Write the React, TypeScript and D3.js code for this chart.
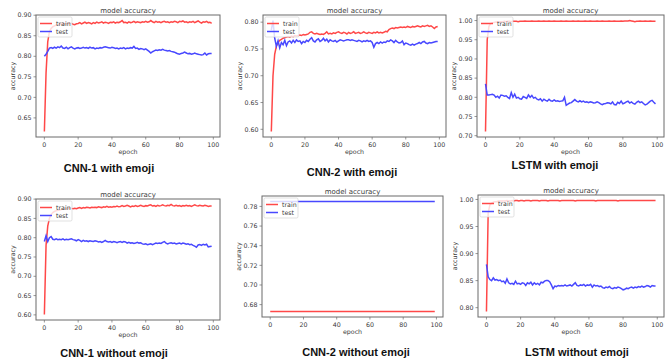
import * as d3 from "d3";

// captions under each panel
const captions = [
  "CNN-1 with emoji",
  "CNN-2 with emoji",
  "LSTM with emoji",
  "CNN-1 without emoji",
  "CNN-2 without emoji",
  "LSTM without emoji",
];

const xTicks = [0, 20, 40, 60, 80, 100];

const yTicks = [
  [0.65, 0.7, 0.75, 0.8, 0.85, 0.9],
  [0.6, 0.65, 0.7, 0.75, 0.8],
  [0.7, 0.75, 0.8, 0.85, 0.9, 0.95, 1.0],
  [0.6, 0.65, 0.7, 0.75, 0.8, 0.85, 0.9],
  [0.68, 0.7, 0.72, 0.74, 0.76, 0.78],
  [0.8, 0.85, 0.9, 0.95, 1.0],
];

// CNN-1 with emoji
const cnn1EmojiTrain = [
  0.617, 0.76, 0.835, 0.86, 0.868, 0.872, 0.874, 0.876, 0.877, 0.878,
  0.879, 0.88, 0.878, 0.88, 0.879, 0.881, 0.88, 0.878, 0.877, 0.879,
  0.88, 0.882, 0.879, 0.881, 0.883, 0.88, 0.882, 0.881, 0.879, 0.882,
  0.88, 0.883, 0.881, 0.882, 0.884, 0.881, 0.883, 0.882, 0.88, 0.883,
  0.882, 0.884, 0.881, 0.883, 0.882, 0.884, 0.887, 0.882, 0.883, 0.881,
  0.884, 0.882, 0.883, 0.885, 0.882, 0.884, 0.883, 0.882, 0.884, 0.883,
  0.885, 0.883, 0.884, 0.887, 0.884, 0.882, 0.885, 0.883, 0.884, 0.882,
  0.884, 0.885, 0.883, 0.884, 0.882, 0.884, 0.883, 0.885, 0.884, 0.882,
  0.885, 0.884, 0.886, 0.883, 0.884, 0.882, 0.884, 0.883, 0.885, 0.882,
  0.884, 0.886, 0.883, 0.881, 0.884, 0.883, 0.885, 0.882, 0.883, 0.88,
];
const cnn1EmojiTest = [
  0.8, 0.805, 0.812, 0.82, 0.821, 0.819, 0.822, 0.82, 0.823, 0.821,
  0.825, 0.82, 0.819, 0.822, 0.818, 0.821, 0.823, 0.82, 0.818, 0.82,
  0.821, 0.819, 0.82, 0.822, 0.82, 0.821, 0.819, 0.822, 0.82, 0.821,
  0.818, 0.82, 0.819, 0.821, 0.82, 0.822, 0.823, 0.822, 0.821, 0.82,
  0.822, 0.821, 0.819, 0.82, 0.818, 0.82, 0.819, 0.821, 0.818, 0.82,
  0.819, 0.821, 0.82, 0.824, 0.819, 0.82, 0.817, 0.819, 0.818, 0.816,
  0.818, 0.815, 0.812, 0.808, 0.811, 0.813, 0.815, 0.814, 0.816, 0.815,
  0.817, 0.815, 0.814, 0.813, 0.814, 0.812, 0.811, 0.81, 0.808, 0.806,
  0.805, 0.807, 0.808, 0.81, 0.808, 0.806, 0.807, 0.805, 0.806, 0.808,
  0.806, 0.805, 0.804, 0.803, 0.804, 0.808, 0.803, 0.806, 0.807, 0.807,
];

// CNN-2 with emoji
const cnn2EmojiTrain = [
  0.596, 0.7, 0.74, 0.755, 0.762, 0.766, 0.768, 0.77, 0.771, 0.772,
  0.773, 0.772, 0.774, 0.773, 0.775, 0.774, 0.775, 0.776, 0.775, 0.777,
  0.776, 0.777, 0.778, 0.781, 0.782, 0.779, 0.778, 0.779, 0.778, 0.777,
  0.778, 0.777, 0.779, 0.782, 0.778, 0.779, 0.778, 0.78, 0.779, 0.781,
  0.782, 0.78, 0.779, 0.781, 0.78, 0.778, 0.781, 0.779, 0.78, 0.782,
  0.779, 0.78, 0.781, 0.779, 0.78, 0.782, 0.78, 0.779, 0.781, 0.78,
  0.779, 0.781, 0.78, 0.782, 0.78, 0.781, 0.78, 0.781, 0.783, 0.782,
  0.786, 0.788, 0.789, 0.788, 0.79, 0.789, 0.79, 0.791, 0.79, 0.791,
  0.79, 0.792, 0.791, 0.79, 0.792, 0.791, 0.792, 0.793, 0.792, 0.791,
  0.793, 0.792, 0.793, 0.794, 0.792, 0.793, 0.791, 0.788, 0.791, 0.792,
];
const cnn2EmojiTest = [
  0.785, 0.803, 0.77, 0.755, 0.765, 0.752, 0.762, 0.758, 0.766, 0.756,
  0.763, 0.765, 0.761, 0.766, 0.762, 0.767, 0.764, 0.765, 0.76, 0.764,
  0.762, 0.766, 0.764, 0.768, 0.771, 0.765, 0.763, 0.767, 0.769, 0.764,
  0.766, 0.77, 0.765, 0.768, 0.763, 0.767, 0.765, 0.764, 0.766, 0.763,
  0.765, 0.767, 0.766, 0.765, 0.766, 0.767, 0.767, 0.766, 0.767, 0.766,
  0.765, 0.764, 0.766, 0.765, 0.763, 0.765, 0.764, 0.766, 0.764, 0.765,
  0.762, 0.753, 0.76, 0.762, 0.76, 0.763, 0.761, 0.763, 0.762, 0.765,
  0.764, 0.767, 0.765, 0.762, 0.766, 0.763, 0.761, 0.762, 0.765, 0.758,
  0.761, 0.76, 0.758, 0.757, 0.759, 0.757, 0.759, 0.76, 0.762, 0.76,
  0.763, 0.764, 0.761, 0.76, 0.762, 0.761, 0.762, 0.763, 0.764, 0.764,
];

// LSTM with emoji
const lstmEmojiTrain = [
  0.711, 0.95, 0.985, 0.992, 0.994, 0.995, 0.996, 0.996, 0.997, 0.997,
  0.997, 0.998, 0.997, 0.998, 0.998, 0.997, 0.998, 0.998, 0.998, 0.997,
  0.998, 0.998, 0.998, 0.999, 0.998, 0.998, 0.998, 0.999, 0.998, 0.998,
  0.998, 0.999, 0.998, 0.998, 0.999, 0.998, 0.998, 0.999, 0.998, 0.998,
  0.999, 0.998, 0.998, 0.998, 0.999, 0.998, 0.998, 0.999, 0.998, 0.998,
  0.998, 0.999, 0.998, 0.998, 0.999, 0.998, 0.998, 0.998, 0.999, 0.998,
  0.998, 0.999, 0.998, 0.998, 0.998, 0.999, 0.998, 0.998, 0.999, 0.998,
  0.998, 0.998, 0.999, 0.998, 0.998, 0.999, 0.998, 0.998, 0.998, 0.999,
  0.998, 0.999, 0.999, 0.999, 1.0, 0.999, 0.998, 0.997, 0.998, 0.998,
  0.999, 0.998, 0.998, 0.999, 0.998, 0.998, 0.999, 0.998, 0.998, 0.998,
];
const lstmEmojiTest = [
  0.835, 0.806, 0.806, 0.807, 0.808, 0.806, 0.8, 0.803, 0.798, 0.806,
  0.805, 0.803, 0.804, 0.8, 0.797, 0.812, 0.8, 0.808, 0.798, 0.8,
  0.796, 0.795, 0.802, 0.8, 0.797, 0.806, 0.8, 0.805, 0.798, 0.8,
  0.795, 0.793, 0.796, 0.79, 0.795, 0.792, 0.79, 0.795, 0.791, 0.79,
  0.793, 0.79, 0.791, 0.789, 0.79, 0.791, 0.8, 0.779, 0.782, 0.785,
  0.786, 0.79, 0.794, 0.79, 0.788, 0.791, 0.788, 0.79, 0.787, 0.788,
  0.786, 0.788, 0.787, 0.785, 0.786, 0.788, 0.786, 0.783, 0.781, 0.783,
  0.784, 0.786, 0.785, 0.783, 0.788, 0.781, 0.78, 0.787, 0.784, 0.79,
  0.783, 0.785, 0.788, 0.79, 0.785, 0.788, 0.784, 0.782, 0.787, 0.79,
  0.786, 0.788, 0.784, 0.78, 0.782, 0.786, 0.79, 0.792, 0.787, 0.783,
];

// CNN-1 without emoji
const cnn1PlainTrain = [
  0.601, 0.78, 0.83, 0.85, 0.86, 0.865, 0.868, 0.87, 0.871, 0.872,
  0.873, 0.874, 0.874, 0.875, 0.876, 0.877, 0.876, 0.875, 0.876, 0.875,
  0.877, 0.878, 0.876, 0.878, 0.877, 0.879, 0.878, 0.877, 0.879, 0.878,
  0.879, 0.878, 0.88, 0.879, 0.878, 0.88, 0.879, 0.881, 0.879, 0.88,
  0.879, 0.881, 0.88, 0.882, 0.88, 0.881, 0.883, 0.881, 0.882, 0.884,
  0.882, 0.88, 0.882, 0.881, 0.883, 0.881, 0.882, 0.884, 0.882, 0.881,
  0.883, 0.882, 0.884, 0.885, 0.882, 0.883, 0.881, 0.884, 0.882, 0.883,
  0.885, 0.883, 0.882, 0.884, 0.883, 0.886, 0.883, 0.882, 0.884, 0.882,
  0.883, 0.881, 0.883, 0.882, 0.884, 0.882, 0.883, 0.881, 0.883, 0.885,
  0.883, 0.882, 0.884, 0.883, 0.882, 0.884, 0.883, 0.881, 0.882, 0.882,
];
const cnn1PlainTest = [
  0.79, 0.805, 0.79, 0.8, 0.803, 0.796, 0.795, 0.797, 0.795, 0.796,
  0.795, 0.797, 0.794, 0.796, 0.795, 0.796, 0.797, 0.795, 0.794, 0.792,
  0.795, 0.793, 0.79, 0.793, 0.791, 0.792, 0.79, 0.792, 0.791, 0.79,
  0.792, 0.791, 0.789, 0.79, 0.788, 0.79, 0.793, 0.79, 0.789, 0.79,
  0.788, 0.79, 0.789, 0.787, 0.789, 0.79, 0.788, 0.79, 0.789, 0.786,
  0.788, 0.786, 0.787, 0.785, 0.786, 0.788, 0.786, 0.787, 0.784, 0.783,
  0.784, 0.782, 0.783, 0.784, 0.782, 0.784, 0.786, 0.785, 0.786, 0.785,
  0.788, 0.79, 0.786, 0.784, 0.786, 0.787, 0.785, 0.786, 0.784, 0.785,
  0.786, 0.784, 0.786, 0.785, 0.783, 0.784, 0.782, 0.783, 0.78, 0.778,
  0.775, 0.781, 0.782, 0.78, 0.783, 0.781, 0.783, 0.776, 0.777, 0.778,
];

// CNN-2 without emoji (flat)
const cnn2PlainTrain = [
  0.673, 0.673, 0.673, 0.673, 0.673, 0.673, 0.673, 0.673, 0.673, 0.673,
  0.673, 0.673, 0.673, 0.673, 0.673, 0.673, 0.673, 0.673, 0.673, 0.673,
  0.673, 0.673, 0.673, 0.673, 0.673, 0.673, 0.673, 0.673, 0.673, 0.673,
  0.673, 0.673, 0.673, 0.673, 0.673, 0.673, 0.673, 0.673, 0.673, 0.673,
  0.673, 0.673, 0.673, 0.673, 0.673, 0.673, 0.673, 0.673, 0.673, 0.673,
  0.673, 0.673, 0.673, 0.673, 0.673, 0.673, 0.673, 0.673, 0.673, 0.673,
  0.673, 0.673, 0.673, 0.673, 0.673, 0.673, 0.673, 0.673, 0.673, 0.673,
  0.673, 0.673, 0.673, 0.673, 0.673, 0.673, 0.673, 0.673, 0.673, 0.673,
  0.673, 0.673, 0.673, 0.673, 0.673, 0.673, 0.673, 0.673, 0.673, 0.673,
  0.673, 0.673, 0.673, 0.673, 0.673, 0.673, 0.673, 0.673, 0.673, 0.673,
];
const cnn2PlainTest = [
  0.785, 0.785, 0.785, 0.785, 0.785, 0.785, 0.785, 0.785, 0.785, 0.785,
  0.785, 0.785, 0.785, 0.785, 0.785, 0.785, 0.785, 0.785, 0.785, 0.785,
  0.785, 0.785, 0.785, 0.785, 0.785, 0.785, 0.785, 0.785, 0.785, 0.785,
  0.785, 0.785, 0.785, 0.785, 0.785, 0.785, 0.785, 0.785, 0.785, 0.785,
  0.785, 0.785, 0.785, 0.785, 0.785, 0.785, 0.785, 0.785, 0.785, 0.785,
  0.785, 0.785, 0.785, 0.785, 0.785, 0.785, 0.785, 0.785, 0.785, 0.785,
  0.785, 0.785, 0.785, 0.785, 0.785, 0.785, 0.785, 0.785, 0.785, 0.785,
  0.785, 0.785, 0.785, 0.785, 0.785, 0.785, 0.785, 0.785, 0.785, 0.785,
  0.785, 0.785, 0.785, 0.785, 0.785, 0.785, 0.785, 0.785, 0.785, 0.785,
  0.785, 0.785, 0.785, 0.785, 0.785, 0.785, 0.785, 0.785, 0.785, 0.785,
];

// LSTM without emoji
const lstmPlainTrain = [
  0.793, 0.975, 0.99, 0.993, 0.995, 0.996, 0.996, 0.997, 0.997, 0.997,
  0.997, 0.997, 0.998, 0.997, 0.997, 0.998, 0.997, 0.998, 0.998, 0.997,
  0.998, 0.998, 0.997, 0.998, 0.998, 0.998, 0.997, 0.998, 0.998, 0.998,
  0.998, 0.997, 0.998, 0.998, 0.998, 0.998, 0.997, 0.998, 0.998, 0.998,
  0.998, 0.998, 0.998, 0.997, 0.998, 0.998, 0.998, 0.998, 0.998, 0.998,
  0.998, 0.998, 0.997, 0.998, 0.998, 0.998, 0.998, 0.998, 0.998, 0.998,
  0.998, 0.998, 0.998, 0.998, 0.997, 0.998, 0.998, 0.998, 0.998, 0.998,
  0.998, 0.998, 0.998, 0.998, 0.998, 0.998, 0.998, 0.997, 0.998, 0.998,
  0.998, 0.998, 0.998, 0.998, 0.998, 0.998, 0.998, 0.998, 0.998, 0.998,
  0.998, 0.998, 0.998, 0.998, 0.998, 0.998, 0.998, 0.998, 0.998, 0.998,
];
const lstmPlainTest = [
  0.88, 0.857, 0.852, 0.85, 0.855, 0.851, 0.852, 0.85, 0.851, 0.848,
  0.849, 0.845, 0.853, 0.846, 0.844, 0.845, 0.843, 0.849, 0.844, 0.845,
  0.843, 0.846, 0.845, 0.841, 0.846, 0.844, 0.847, 0.842, 0.846, 0.843,
  0.845, 0.842, 0.847, 0.846, 0.849, 0.85, 0.85, 0.848, 0.842, 0.835,
  0.84, 0.839, 0.841, 0.84, 0.841, 0.84, 0.842, 0.84, 0.841, 0.842,
  0.84, 0.843, 0.846, 0.841, 0.84, 0.842, 0.841, 0.843, 0.84, 0.842,
  0.841, 0.843, 0.838, 0.842, 0.84, 0.841, 0.839, 0.84, 0.837, 0.836,
  0.838, 0.837, 0.839, 0.836, 0.835, 0.837, 0.836, 0.838, 0.837, 0.835,
  0.833, 0.834, 0.836, 0.835, 0.837, 0.838, 0.836, 0.838, 0.837, 0.839,
  0.838, 0.84, 0.838, 0.839, 0.841, 0.84, 0.838, 0.841, 0.84, 0.84,
];

const trainSeries = [cnn1EmojiTrain, cnn2EmojiTrain, lstmEmojiTrain, cnn1PlainTrain, cnn2PlainTrain, lstmPlainTrain];
const testSeries = [cnn1EmojiTest, cnn2EmojiTest, lstmEmojiTest, cnn1PlainTest, cnn2PlainTest, lstmPlainTest];

// where each axes box sits in the picture
const frames = [
  { x0: 36, x1: 220, y0: 15, y1: 137, cx: 109, cy: 172 },
  { x0: 263, x1: 446, y0: 15, y1: 137, cx: 352, cy: 176 },
  { x0: 477, x1: 664, y0: 15, y1: 137, cx: 555, cy: 169 },
  { x0: 36, x1: 220, y0: 199, y1: 320, cx: 114, cy: 357 },
  { x0: 262, x1: 443, y0: 196, y1: 317, cx: 356, cy: 356 },
  { x0: 478, x1: 664, y0: 195, y1: 317, cx: 577, cy: 356 },
];

const FONT = "'DejaVu Sans', sans-serif";
const TXT = "#3a3a3a";
const SPINE = "#6a6a6a";
const RED = "#ff4848";
const BLUE = "#4848ff";
const LW = 1.5;

function Panel({ i }: { i: number }) {
  const f = frames[i];
  const train = trainSeries[i];
  const test = testSeries[i];
  const n = train.length;

  // matplotlib-style 5% margins
  const xPad = (n - 1) * 0.05;
  const x = d3.scaleLinear().domain([-xPad, n - 1 + xPad]).range([f.x0, f.x1]);
  const [lo, hi] = d3.extent([...train, ...test]) as [number, number];
  const yPad = (hi - lo) * 0.05;
  const y = d3.scaleLinear().domain([lo - yPad, hi + yPad]).range([f.y1, f.y0]);

  const line = d3
    .line<number>()
    .x((_, k) => x(k))
    .y((d) => y(d));

  const midY = (f.y0 + f.y1) / 2;
  const lx = f.x0 + 2;
  const ly = f.y0 + 2;

  return (
    <g>
      <rect x={f.x0} y={f.y0} width={f.x1 - f.x0} height={f.y1 - f.y0} fill="#fff" />
      <path d={line(train) ?? ""} fill="none" stroke={RED} strokeWidth={LW} />
      <path d={line(test) ?? ""} fill="none" stroke={BLUE} strokeWidth={LW} />

      {/* legend */}
      <rect x={lx} y={ly} width={34} height={20} rx={1.5} fill="#fff" fillOpacity={0.8} stroke="#ccc" strokeWidth={0.6} />
      <line x1={lx + 2} x2={lx + 14} y1={ly + 6.5} y2={ly + 6.5} stroke={RED} strokeWidth={LW} />
      <line x1={lx + 2} x2={lx + 14} y1={ly + 14.5} y2={ly + 14.5} stroke={BLUE} strokeWidth={LW} />
      <text x={lx + 18} y={ly + 8.6} fontSize={6.3} fill={TXT} fontFamily={FONT}>train</text>
      <text x={lx + 18} y={ly + 16.6} fontSize={6.3} fill={TXT} fontFamily={FONT}>test</text>

      <rect x={f.x0} y={f.y0} width={f.x1 - f.x0} height={f.y1 - f.y0} fill="none" stroke={SPINE} strokeWidth={1} />

      {xTicks.map((t) => (
        <g key={`x${t}`}>
          <line x1={x(t)} x2={x(t)} y1={f.y1} y2={f.y1 + 2.5} stroke={SPINE} strokeWidth={0.7} />
          <text x={x(t)} y={f.y1 + 9.5} fontSize={6.3} textAnchor="middle" fill={TXT} fontFamily={FONT}>
            {t}
          </text>
        </g>
      ))}
      {yTicks[i].map((t) => (
        <g key={`y${t}`}>
          <line x1={f.x0 - 2.5} x2={f.x0} y1={y(t)} y2={y(t)} stroke={SPINE} strokeWidth={0.7} />
          <text x={f.x0 - 4.5} y={y(t)} dy="0.35em" fontSize={6.3} textAnchor="end" fill={TXT} fontFamily={FONT}>
            {t.toFixed(2)}
          </text>
        </g>
      ))}

      <text x={(f.x0 + f.x1) / 2} y={f.y0 - 2.5} fontSize={7} textAnchor="middle" fill={TXT} fontFamily={FONT}>
        model accuracy
      </text>
      <text x={(f.x0 + f.x1) / 2} y={f.y1 + 17} fontSize={6.3} textAnchor="middle" fill={TXT} fontFamily={FONT}>
        epoch
      </text>
      <text
        transform={`translate(${f.x0 - 21},${midY}) rotate(-90)`}
        fontSize={6.3}
        textAnchor="middle"
        fill={TXT}
        fontFamily={FONT}
      >
        accuracy
      </text>

      <text
        x={f.cx}
        y={f.cy}
        fontSize={11}
        fontWeight="bold"
        textAnchor="middle"
        fill="#111"
        fontFamily="'Liberation Sans', Arial, sans-serif"
      >
        {captions[i]}
      </text>
    </g>
  );
}

export default function App() {
  return (
    <svg
      width={668}
      height={361}
      style={{ position: "absolute", left: 0, top: 0, background: "#fff" }}
    >
      {frames.map((_, i) => (
        <Panel key={i} i={i} />
      ))}
    </svg>
  );
}
